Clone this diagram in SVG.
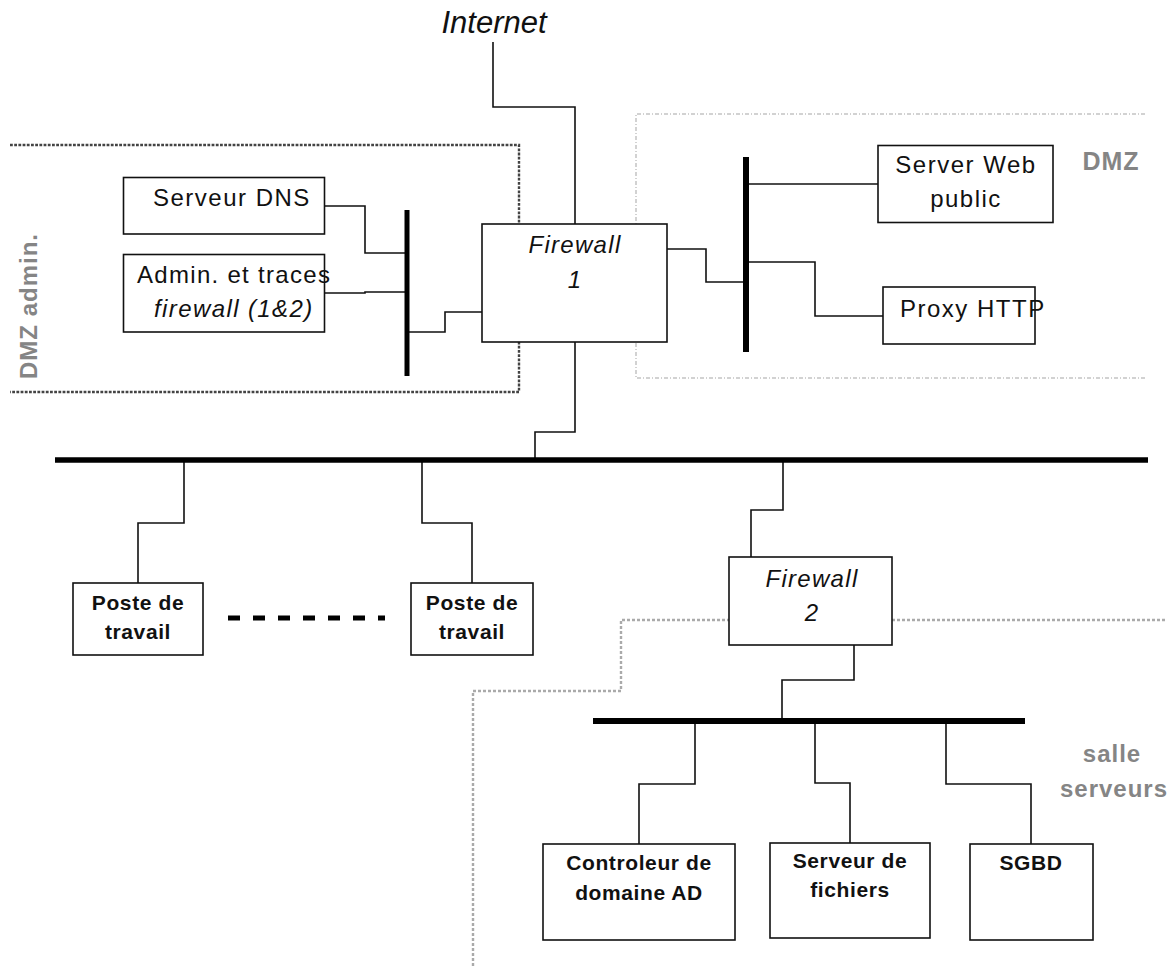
<svg xmlns="http://www.w3.org/2000/svg" width="1174" height="970" viewBox="0 0 1174 970">
<style>
text{font-family:"Liberation Sans",Arial,sans-serif;fill:#111}
.r{font-size:24px;letter-spacing:1.5px}
.i{font-size:24px;font-style:italic;letter-spacing:1.3px}
.b{font-size:21px;font-weight:bold;letter-spacing:0.6px}
.g{font-size:24px;font-weight:bold;fill:#858585;letter-spacing:1px}
.box{fill:#fff;stroke:#111;stroke-width:1.6}
.w{fill:none;stroke:#111;stroke-width:1.6}
.bus{fill:none;stroke:#000;stroke-width:6}
.m{text-anchor:middle}
</style>
<g id="zones">
<path d="M10,145 H519 V392 H10" fill="none" stroke="#444" stroke-width="2.4" stroke-dasharray="2.8 1.4"/>
<path d="M1145,114 H636 V378 H1145" fill="none" stroke="#c4c4c4" stroke-width="1.5" stroke-dasharray="4 2 1 2"/>
<path d="M1165,620 H621 V691 H473 V968" fill="none" stroke="#aaa" stroke-width="2.4" stroke-dasharray="3 2"/>
<text class="g" transform="translate(37,306) rotate(-90)" text-anchor="middle">DMZ admin.</text>
<text class="g m" x="1111" y="170" style="font-size:25px">DMZ</text>
<text class="g m" x="1112" y="762">salle</text>
<text class="g m" x="1114" y="797">serveurs</text>
</g>
<g id="connectors">
<path class="w" d="M493,42 V107 H575 V224"/>
<path class="w" d="M575,342 V432 H535 V460"/>
<path class="w" d="M325,206 H365 V253 H407"/>
<path class="w" d="M325,293 H365 V292 H407"/>
<path class="w" d="M407,332 H445 V312 H482"/>
<path class="w" d="M667,249 H706 V282 H746"/>
<path class="w" d="M746,184 H878"/>
<path class="w" d="M746,262 H815 V316 H883"/>
<path class="w" d="M184,460 V523 H138 V583"/>
<path class="w" d="M422,460 V523 H472 V583"/>
<path class="w" d="M783,460 V510 H751 V557"/>
<path class="w" d="M854,645 V680 H782 V721"/>
<path class="w" d="M695,721 V784 H639 V844"/>
<path class="w" d="M815,721 V783 H850 V843"/>
<path class="w" d="M946,721 V784 H1031 V844"/>
<path class="bus" style="stroke-width:5" d="M407,210 V376"/>
<path class="bus" d="M746,157 V352"/>
<path class="bus" style="stroke-width:5.5" d="M55,460 H1148"/>
<path class="bus" d="M593,721 H1025"/>
<path class="bus" style="stroke-width:5" stroke-dasharray="12 13" d="M228,618 H385"/>
</g>
<g id="internet"><text x="494" y="33" class="m" style="font-size:31px;font-style:italic">Internet</text></g>
<g id="dns"><rect class="box" x="123.5" y="177.5" width="201" height="56.5"/><text class="r" x="153" y="206">Serveur DNS</text></g>
<g id="admin"><rect class="box" x="123.5" y="254.5" width="201" height="77.5"/><text class="r" x="137" y="283" style="letter-spacing:1.3px">Admin. et traces</text><text class="i" x="154" y="317" style="letter-spacing:1.4px">firewall (1&amp;2)</text></g>
<g id="firewall1"><rect class="box" x="482" y="224" width="185" height="118"/><text class="i m" x="575" y="253">Firewall</text><text class="i m" x="575" y="288">1</text></g>
<g id="web"><rect class="box" x="878" y="145.5" width="175" height="77"/><text class="r m" x="966" y="173">Server Web</text><text class="r m" x="966" y="207">public</text></g>
<g id="proxy"><rect class="box" x="883" y="287" width="152" height="57"/><text class="r" x="900" y="317">Proxy HTTP</text></g>
<g id="poste1"><rect class="box" x="73" y="583" width="130" height="72"/><text class="b m" x="138" y="610">Poste de</text><text class="b m" x="138" y="639">travail</text></g>
<g id="poste2"><rect class="box" x="411" y="583" width="122" height="72"/><text class="b m" x="472" y="610">Poste de</text><text class="b m" x="472" y="639">travail</text></g>
<g id="firewall2"><rect class="box" x="729" y="557" width="163" height="88"/><text class="i m" x="812" y="587">Firewall</text><text class="i m" x="812" y="621">2</text></g>
<g id="ad"><rect class="box" x="543" y="844" width="192" height="96"/><text class="b m" x="639" y="870">Controleur de</text><text class="b m" x="639" y="900">domaine AD</text></g>
<g id="fichiers"><rect class="box" x="770" y="843" width="160" height="95"/><text class="b m" x="850" y="868">Serveur de</text><text class="b m" x="850" y="897">fichiers</text></g>
<g id="sgbd"><rect class="box" x="970" y="844" width="123" height="96"/><text class="b m" x="1031" y="870">SGBD</text></g>
</svg>
